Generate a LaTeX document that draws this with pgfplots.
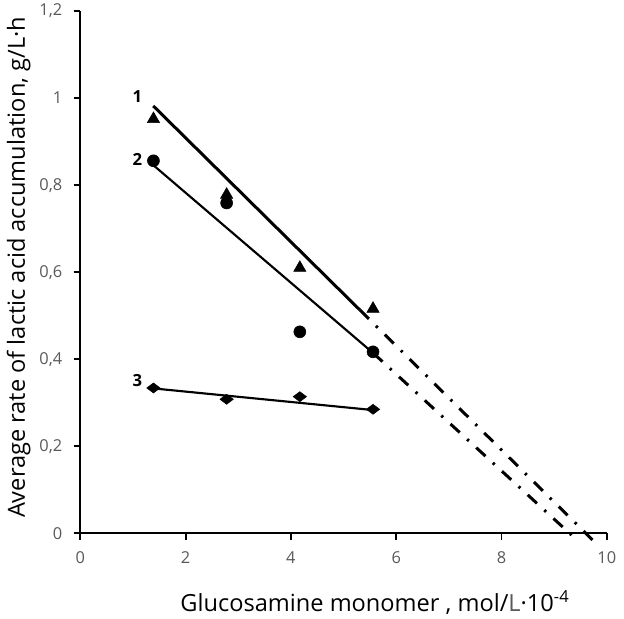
\documentclass[border=0pt]{standalone}
\usepackage{fontspec}
\setmainfont{Open Sans}
\usepackage{pgfplots}
\pgfplotsset{compat=1.18}
\definecolor{tickgray}{RGB}{89,89,89}
\begin{document}
\begin{tikzpicture}
\begin{axis}[
  scale only axis, width=394.9pt, height=391.7pt,
  xmin=0, xmax=10, ymin=0, ymax=1.2,
  axis x line=bottom, axis y line=left,
  axis line style={-, line width=1.4pt},
  xtick={0,2,4,6,8,10}, ytick={0,0.2,0.4,0.6,0.8,1,1.2},
  tick align=outside, major tick length=5pt,
  tick style={line width=1.4pt, black},
  ticklabel style={font=\fontsize{12.3}{14}\selectfont, color=tickgray},
  xticklabel style={yshift=-5pt},
  yticklabel style={xshift=-5pt},
  /pgf/number format/.cd, use comma, fixed, precision=1, assume math mode=true, /pgfplots/.cd,
  clip=false,
]
\coordinate (O) at (rel axis cs:0,0);
% regression lines
\addplot[black, line width=2.25pt] coordinates {(1.387,0.982) (5.312,0.513)};
\addplot[black, line width=2.25pt, dash pattern=on 9.4pt off 7.5pt on 1.8pt off 7.5pt] coordinates {(5.312,0.513) (9.744,-0.017)};
\addplot[black, line width=1.6pt] coordinates {(1.387,0.846) (5.565,0.414)};
\addplot[black, line width=2.25pt, dash pattern=on 9.4pt off 7.5pt on 1.8pt off 7.5pt] coordinates {(5.565,0.414) (9.33,-0.004)};
\addplot[black, line width=1.6pt] coordinates {(1.387,0.333) (5.58,0.283)};
% data points
\addplot[only marks, mark=triangle*, mark size=5.3pt, black] coordinates {(1.39,0.952) (2.78,0.778) (4.17,0.610) (5.56,0.516)};
\addplot[only marks, mark=*, mark size=4.5pt, black] coordinates {(1.39,0.856) (2.78,0.759) (4.17,0.463) (5.56,0.417)};
\addplot[only marks, mark=diamond*, mark size=5pt, black, mark options={rotate=90}] coordinates {(1.39,0.334) (2.78,0.308) (4.17,0.314) (5.56,0.285)};
\node[font=\bfseries\fontsize{12.5}{14}\selectfont] at (axis cs:1.083,1.003) {1};
\node[font=\bfseries\fontsize{12.5}{14}\selectfont] at (axis cs:1.083,0.860) {2};
\node[font=\bfseries\fontsize{12.5}{14}\selectfont] at (axis cs:1.083,0.352) {3};
\end{axis}
\node[anchor=base, font=\fontsize{17.7}{20}\selectfont] at ([shift={(221pt,-58.3pt)}]O) {Glucosamine monomer , mol/{\color{tickgray}L}·10\textsuperscript{-4}};
\node[anchor=base, rotate=90, font=\fontsize{17.7}{20}\selectfont] at ([shift={(-41.5pt,199.4pt)}]O) {Average rate of lactic acid accumulation, g/L·h};
\pgfresetboundingbox
\path ([shift={(-60.2pt,-63.5pt)}]O) rectangle ++(468pt,463.5pt);
\end{tikzpicture}
\end{document}
